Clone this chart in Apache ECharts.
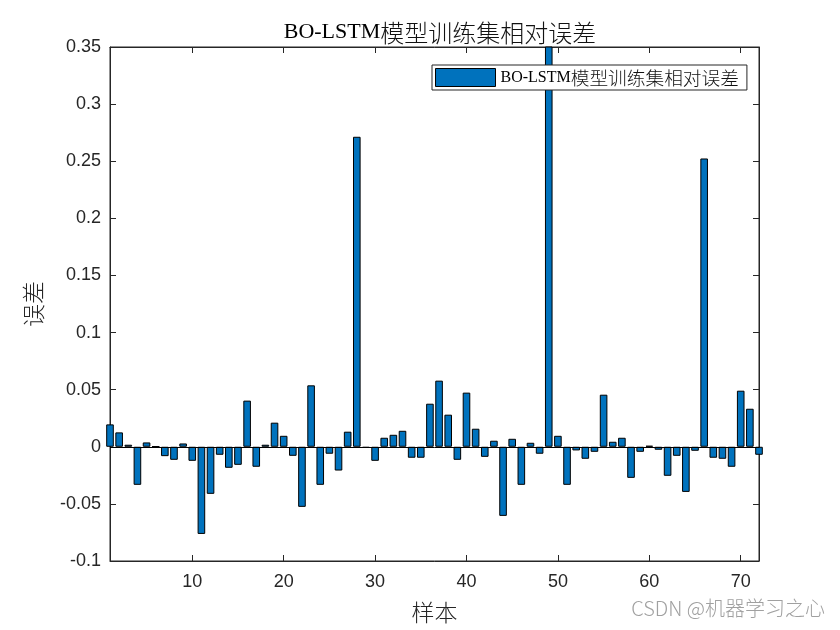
<!DOCTYPE html>
<html><head><meta charset="utf-8">
<script src="https://cdn.jsdelivr.net/npm/echarts@6/dist/echarts.min.js"></script>
<style>html,body{margin:0;padding:0;background:#fff}#c{width:840px;height:630px}</style>
</head><body><div id="c"></div>
<script>
const samples = [1,2,3,4,5,6,7,8,9,10,11,12,13,14,15,16,17,18,19,20,21,22,23,24,25,26,27,28,29,30,31,32,33,34,35,36,37,38,39,40,41,42,43,44,45,46,47,48,49,50,51,52,53,54,55,56,57,58,59,60,61,62,63,64,65,66,67,68,69,70,71,72];
const errors = [0.0196,0.0126,0.0018,-0.0333,0.0038,0.0003,-0.0082,-0.0114,0.0029,-0.0123,
  -0.0763,-0.0412,-0.0070,-0.0184,-0.0158,0.0404,-0.0175,0.0018,0.0211,0.0096,
  -0.0079,-0.0526,0.0538,-0.0333,-0.0061,-0.0208,0.0132,0.2714,-0.0010,-0.0123,
  0.0079,0.0105,0.0140,-0.0096,-0.0096,0.0377,0.0579,0.0281,-0.0114,0.0474,
  0.0158,-0.0088,0.0053,-0.0605,0.0070,-0.0333,0.0035,-0.0061,0.3700,0.0096,
  -0.0333,-0.0032,-0.0105,-0.0044,0.0456,0.0044,0.0079,-0.0272,-0.0044,0.0009,
  -0.0026,-0.0254,-0.0079,-0.0395,-0.0035,0.2524,-0.0096,-0.0105,-0.0175,0.0491,
  0.0333,-0.0070];
const xTicks = [10,20,30,40,50,60,70];
const seriesName = 'BO-LSTM模型训练集相对误差';
const titleLatin = 'BO-LSTM';
const titleCJK = '模型训练集相对误差';
const xName = '样本';
const yName = '误差';

const chart = echarts.init(document.getElementById('c'));
const data = samples.map((s,i)=>[s, errors[i]]);
const tickColor = '#262626';
const serif = '"Liberation Serif","Times New Roman",serif';
const cjk = '"Noto Sans CJK SC"';
chart.setOption({
  animation: false,
  backgroundColor: '#fff',
  title: {
    text: '{a|' + titleLatin + '}{b|' + titleCJK + '}', left: 435, top: 16, textAlign: 'center',
    textStyle: {
      rich: {
        a: {fontFamily: serif, fontSize: 22, color: '#000', fontWeight: 'normal', verticalAlign: 'bottom', padding: [0,0,2,0]},
        b: {fontFamily: cjk, fontSize: 24, color: '#111', fontWeight: 300, verticalAlign: 'bottom'}
      }
    }
  },
  grid: {left: 110, right: 81, top: 47, bottom: 69, show: true, borderColor: '#262626', borderWidth: 1,
    backgroundColor: '#fff', containLabel: false, outerBoundsMode: 'none'},
  legend: {
    data: [seriesName], left: 432, top: 65, orient: 'horizontal',
    backgroundColor: '#fff', borderColor: '#262626', borderWidth: 1, borderRadius: 0,
    padding: [3, 8, 3, 3], itemWidth: 60, itemHeight: 18, itemGap: 4, icon: 'rect',
    itemStyle: {color: '#0072BD', borderColor: '#000', borderWidth: 1},
    formatter: function(n){ return '{a|BO-LSTM}{b|' + n.replace('BO-LSTM','') + '}'; },
    textStyle: {
      padding: [0,0,0,0],
      rich: {
        a: {fontFamily: serif, fontSize: 16, color: '#000', verticalAlign: 'bottom', padding: [0,0,1,0]},
        b: {fontFamily: cjk, fontSize: 18.7, color: '#111', fontWeight: 300, verticalAlign: 'bottom'}
      }
    }
  },
  xAxis: [{
    type: 'value', min: 1, max: 72, position: 'bottom',
    name: xName, nameLocation: 'middle', nameGap: 40,
    nameTextStyle: {fontFamily: cjk, fontSize: 23, color: tickColor, fontWeight: 300},
    axisLine: {show: true, onZero: false, lineStyle: {color: '#262626'}},
    axisTick: {show: true, inside: true, length: 6, customValues: xTicks, lineStyle: {color: '#262626'}},
    axisLabel: {customValues: xTicks, fontFamily: '"Liberation Sans",Arial', fontSize: 18, color: tickColor, margin: 12},
    splitLine: {show: false}
  },{
    type: 'value', min: 1, max: 72, position: 'top',
    axisLine: {show: true, onZero: false, lineStyle: {color: '#262626'}},
    axisTick: {show: true, inside: true, length: 6, customValues: xTicks, lineStyle: {color: '#262626'}},
    axisLabel: {show: false}, splitLine: {show: false}
  }],
  yAxis: [{
    type: 'value', min: -0.1, max: 0.35, interval: 0.05, position: 'left',
    name: yName, nameLocation: 'middle', nameGap: 65, nameRotate: 90,
    nameTextStyle: {fontFamily: cjk, fontSize: 23, color: tickColor, fontWeight: 300},
    axisLine: {show: true, onZero: false, lineStyle: {color: '#262626'}},
    axisTick: {show: true, inside: true, length: 6, lineStyle: {color: '#262626'}},
    axisLabel: {fontFamily: '"Liberation Sans",Arial', fontSize: 18, color: tickColor, margin: 9,
      formatter: v => String(parseFloat(v.toFixed(2)))},
    splitLine: {show: false}
  },{
    type: 'value', min: -0.1, max: 0.35, interval: 0.05, position: 'right',
    axisLine: {show: true, onZero: false, lineStyle: {color: '#262626'}},
    axisTick: {show: true, inside: true, length: 6, lineStyle: {color: '#262626'}},
    axisLabel: {show: false}, splitLine: {show: false}
  }],
  series: [{
    name: seriesName, type: 'bar', xAxisIndex: 0, yAxisIndex: 0,
    data: data, barWidth: 7.6, clip: true,
    itemStyle: {color: '#0072BD', borderColor: '#000', borderWidth: 1},
    markLine: {silent: true, symbol: 'none', label: {show: false},
      lineStyle: {color: '#000', width: 1, type: 'solid'}, data: [{yAxis: 0}]}
  }],
  graphic: [{
    type: 'text', right: 15, top: 598,
    style: {text: 'CSDN @机器学习之心', fontFamily: cjk, fontSize: 20, fill: '#a0a0a0', fontWeight: 300}
  }]
});
</script></body></html>
